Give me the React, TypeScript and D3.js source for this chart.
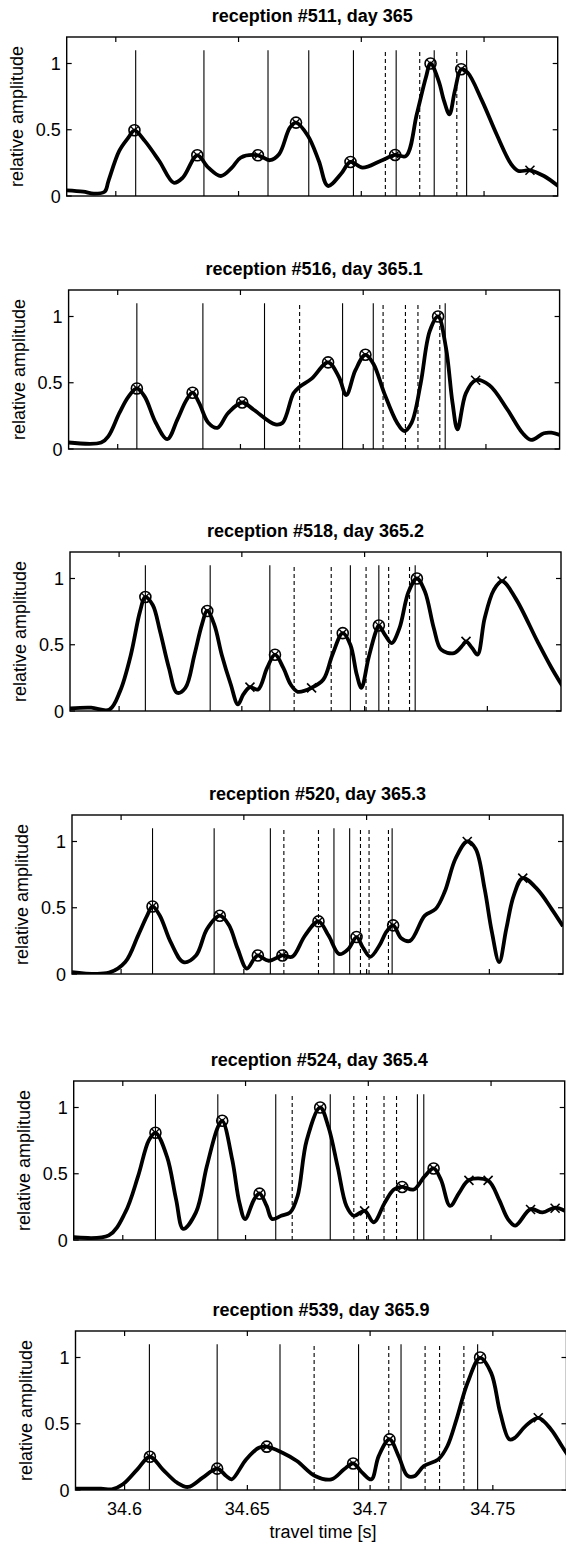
import React from "react";
import * as d3 from "d3";

// ---------- data ----------
const titles = [
  "reception #511, day 365",
  "reception #516, day 365.1",
  "reception #518, day 365.2",
  "reception #520, day 365.3",
  "reception #524, day 365.4",
  "reception #539, day 365.9",
];
const xDomain = [34.58, 34.78];
const yDomain = [0, 1.2];
const xTicks = [34.6, 34.65, 34.7, 34.75];
const xTickLabels = ["34.6", "34.65", "34.7", "34.75"];
const yTicks = [0, 0.5, 1];
const yTickLabels = ["0", "0.5", "1"];
const lineTop = 1.1;

// panel 1 (#511)
const p1Time = [34.58, 34.5867, 34.5911, 34.5955, 34.597, 34.6014, 34.6051, 34.6076, 34.6118, 34.6177, 34.6236, 34.6273, 34.6332, 34.6377, 34.6428, 34.6473, 34.6509, 34.6579, 34.6628, 34.6665, 34.6709, 34.6734, 34.6783, 34.6827, 34.6864, 34.6916, 34.6956, 34.7005, 34.7078, 34.7138, 34.7182, 34.7226, 34.7263, 34.7282, 34.7315, 34.7337, 34.7359, 34.7381, 34.7407, 34.7433, 34.7492, 34.7551, 34.7611, 34.764, 34.7687, 34.7744, 34.7807];
const p1Amp = [0.043, 0.033, 0.018, 0.033, 0.113, 0.34, 0.44, 0.496, 0.416, 0.264, 0.1, 0.139, 0.307, 0.214, 0.151, 0.214, 0.29, 0.307, 0.27, 0.315, 0.516, 0.554, 0.453, 0.264, 0.076, 0.164, 0.257, 0.214, 0.264, 0.31, 0.302, 0.617, 0.894, 1.0, 0.869, 0.718, 0.617, 0.793, 0.957, 0.932, 0.718, 0.466, 0.239, 0.189, 0.194, 0.151, 0.068];
const p1Solid = [34.6081, 34.6359, 34.662, 34.6786, 34.6968, 34.7142, 34.7297, 34.7429];
const p1Dashed = [34.7098, 34.7238, 34.7389];
const p1CircleT = [34.6076, 34.6332, 34.6579, 34.6734, 34.6956, 34.7138, 34.7282, 34.7407];
const p1CircleA = [0.496, 0.307, 0.307, 0.554, 0.257, 0.31, 1.0, 0.957];
const p1CrossT = [34.7687];
const p1CrossA = [0.194];

// panel 2 (#516)
const p2Time = [34.58, 34.5933, 34.5963, 34.6007, 34.6044, 34.6078, 34.611, 34.6155, 34.6202, 34.6243, 34.628, 34.6305, 34.6332, 34.6369, 34.6406, 34.645, 34.6507, 34.6554, 34.6642, 34.6672, 34.6716, 34.6741, 34.679, 34.6857, 34.6901, 34.6931, 34.6968, 34.7009, 34.7042, 34.7086, 34.7138, 34.7167, 34.7197, 34.7234, 34.7271, 34.7305, 34.7337, 34.7364, 34.7384, 34.7418, 34.7458, 34.7514, 34.7588, 34.7648, 34.7684, 34.7736, 34.7766, 34.7803];
const p2Amp = [0.049, 0.049, 0.099, 0.272, 0.395, 0.457, 0.395, 0.198, 0.074, 0.222, 0.37, 0.425, 0.346, 0.198, 0.16, 0.272, 0.351, 0.296, 0.185, 0.198, 0.42, 0.469, 0.531, 0.654, 0.543, 0.407, 0.593, 0.711, 0.642, 0.42, 0.198, 0.136, 0.198, 0.494, 0.889, 1.0, 0.765, 0.346, 0.148, 0.42, 0.519, 0.481, 0.296, 0.123, 0.069, 0.119, 0.123, 0.104];
const p2Solid = [34.6078, 34.6347, 34.6598, 34.6916, 34.7041, 34.7334];
const p2Dashed = [34.6741, 34.7081, 34.7172, 34.7223, 34.7312];
const p2CircleT = [34.6078, 34.6305, 34.6507, 34.6857, 34.7009, 34.7305];
const p2CircleA = [0.457, 0.425, 0.351, 0.654, 0.711, 1.0];
const p2CrossT = [34.7458];
const p2CrossA = [0.519];

// panel 3 (#518)
const p3Time = [34.58, 34.5886, 34.596, 34.6004, 34.6048, 34.6085, 34.6107, 34.6137, 34.6167, 34.6203, 34.6236, 34.627, 34.6307, 34.6337, 34.6359, 34.6388, 34.6418, 34.6455, 34.6484, 34.6506, 34.6533, 34.6566, 34.6603, 34.6635, 34.6669, 34.6699, 34.6728, 34.6784, 34.6832, 34.6869, 34.6911, 34.6942, 34.6968, 34.6987, 34.7016, 34.7046, 34.7058, 34.7083, 34.711, 34.7142, 34.7179, 34.7213, 34.7246, 34.7282, 34.7312, 34.7364, 34.7401, 34.7413, 34.7438, 34.746, 34.7489, 34.7526, 34.756, 34.7615, 34.7704, 34.776, 34.7805];
const p3Amp = [0.02, 0.025, 0.01, 0.15, 0.425, 0.75, 0.86, 0.8, 0.6, 0.325, 0.1375, 0.175, 0.425, 0.65, 0.755, 0.65, 0.425, 0.2, 0.05, 0.125, 0.18, 0.1625, 0.325, 0.425, 0.325, 0.2, 0.145, 0.175, 0.2375, 0.425, 0.5875, 0.5, 0.275, 0.175, 0.4, 0.6, 0.645, 0.575, 0.5125, 0.625, 0.9, 1.0, 0.9, 0.625, 0.4625, 0.4375, 0.5, 0.525, 0.475, 0.425, 0.7, 0.9125, 0.98, 0.85, 0.525, 0.33, 0.19];
const p3Solid = [34.6107, 34.6371, 34.6614, 34.6942, 34.7058, 34.7206];
const p3Dashed = [34.6713, 34.6864, 34.7006, 34.7098, 34.7183];
const p3CircleT = [34.6107, 34.6359, 34.6635, 34.6911, 34.7058, 34.7213];
const p3CircleA = [0.86, 0.755, 0.425, 0.5875, 0.645, 1.0];
const p3CrossT = [34.6533, 34.6784, 34.7413, 34.756];
const p3CrossA = [0.18, 0.175, 0.525, 0.98];

// panel 4 (#520)
const p4Time = [34.58, 34.5951, 34.6017, 34.6069, 34.6106, 34.6128, 34.6158, 34.6202, 34.6254, 34.6305, 34.635, 34.6402, 34.6439, 34.6475, 34.6512, 34.6542, 34.6557, 34.6601, 34.6657, 34.6697, 34.6749, 34.6804, 34.6845, 34.6889, 34.6926, 34.6959, 34.6985, 34.7015, 34.7052, 34.7081, 34.7108, 34.7141, 34.7177, 34.7237, 34.7281, 34.7318, 34.7362, 34.741, 34.7444, 34.7481, 34.751, 34.754, 34.7569, 34.7599, 34.7636, 34.7695, 34.7754, 34.78];
const p4Amp = [0.015, 0.01, 0.09, 0.29, 0.44, 0.51, 0.44, 0.24, 0.09, 0.14, 0.34, 0.44, 0.37, 0.19, 0.04, 0.115, 0.14, 0.1, 0.14, 0.13, 0.29, 0.397, 0.29, 0.15, 0.19, 0.279, 0.2, 0.13, 0.215, 0.32, 0.367, 0.27, 0.25, 0.44, 0.49, 0.62, 0.87, 1.0, 0.945, 0.64, 0.32, 0.09, 0.34, 0.59, 0.724, 0.64, 0.49, 0.36];
const p4Solid = [34.6128, 34.6379, 34.6608, 34.6867, 34.6931, 34.7104];
const p4Dashed = [34.6663, 34.6804, 34.6975, 34.701, 34.7089];
const p4CircleT = [34.6128, 34.6402, 34.6557, 34.6657, 34.6804, 34.6959, 34.7108];
const p4CircleA = [0.51, 0.44, 0.14, 0.14, 0.397, 0.279, 0.367];
const p4CrossT = [34.741, 34.7636];
const p4CrossA = [1.0, 0.724];

// panel 5 (#524)
const p5Time = [34.58, 34.5943, 34.601, 34.6062, 34.6106, 34.6133, 34.618, 34.6217, 34.6246, 34.6298, 34.6342, 34.6387, 34.6405, 34.6446, 34.6475, 34.6498, 34.6535, 34.6557, 34.6586, 34.6608, 34.6645, 34.6682, 34.6712, 34.6749, 34.6804, 34.6838, 34.6875, 34.6911, 34.6941, 34.6985, 34.7022, 34.7067, 34.7104, 34.7138, 34.7185, 34.7229, 34.7266, 34.7296, 34.7333, 34.737, 34.741, 34.7488, 34.7532, 34.7569, 34.7599, 34.7661, 34.771, 34.7761, 34.78];
const p5Amp = [0.022, 0.035, 0.208, 0.48, 0.752, 0.809, 0.629, 0.307, 0.084, 0.208, 0.554, 0.851, 0.9, 0.604, 0.282, 0.158, 0.307, 0.351, 0.257, 0.158, 0.183, 0.208, 0.332, 0.752, 1.0, 0.851, 0.554, 0.257, 0.183, 0.22, 0.134, 0.282, 0.381, 0.401, 0.381, 0.48, 0.54, 0.455, 0.257, 0.356, 0.453, 0.448, 0.307, 0.158, 0.109, 0.233, 0.208, 0.245, 0.22];
const p5Solid = [34.6133, 34.6387, 34.6623, 34.6845, 34.72, 34.7226];
const p5Dashed = [34.669, 34.6941, 34.6993, 34.7064, 34.7115];
const p5CircleT = [34.6133, 34.6405, 34.6557, 34.6804, 34.7138, 34.7266];
const p5CircleA = [0.81, 0.9, 0.35, 1.0, 0.4, 0.54];
const p5CrossT = [34.6985, 34.741, 34.7488, 34.7661, 34.7761];
const p5CrossA = [0.22, 0.45, 0.45, 0.23, 0.24];

// panel 6 (#539)
const p6Time = [34.58, 34.5904, 34.5948, 34.5993, 34.6052, 34.6103, 34.6155, 34.6214, 34.6259, 34.6318, 34.6377, 34.6414, 34.6436, 34.6495, 34.6547, 34.6579, 34.6643, 34.6702, 34.6776, 34.6842, 34.6894, 34.6931, 34.6968, 34.7005, 34.7035, 34.7079, 34.7116, 34.7153, 34.7182, 34.7219, 34.7278, 34.7315, 34.7352, 34.7397, 34.7448, 34.7493, 34.753, 34.7567, 34.7589, 34.7633, 34.7685, 34.7737, 34.7781, 34.7808];
const p6Amp = [0.01, 0.01, 0.005, 0.043, 0.156, 0.251, 0.156, 0.055, 0.023, 0.093, 0.161, 0.106, 0.08, 0.231, 0.319, 0.327, 0.281, 0.219, 0.106, 0.08, 0.156, 0.201, 0.131, 0.08, 0.256, 0.382, 0.256, 0.106, 0.106, 0.181, 0.231, 0.332, 0.533, 0.809, 0.997, 0.884, 0.583, 0.382, 0.394, 0.482, 0.545, 0.457, 0.332, 0.256];
const p6Solid = [34.6101, 34.6377, 34.6633, 34.6953, 34.7126, 34.7438];
const p6Dashed = [34.6772, 34.7076, 34.7224, 34.7283, 34.7382];
const p6CircleT = [34.6103, 34.6377, 34.6579, 34.6931, 34.7079, 34.7448];
const p6CircleA = [0.251, 0.161, 0.327, 0.2, 0.382, 1.0];
const p6CrossT = [34.7685];
const p6CrossA = [0.545];

const panels = [
  { time: p1Time, amp: p1Amp, solid: p1Solid, dashed: p1Dashed, cT: p1CircleT, cA: p1CircleA, xT: p1CrossT, xA: p1CrossA },
  { time: p2Time, amp: p2Amp, solid: p2Solid, dashed: p2Dashed, cT: p2CircleT, cA: p2CircleA, xT: p2CrossT, xA: p2CrossA },
  { time: p3Time, amp: p3Amp, solid: p3Solid, dashed: p3Dashed, cT: p3CircleT, cA: p3CircleA, xT: p3CrossT, xA: p3CrossA },
  { time: p4Time, amp: p4Amp, solid: p4Solid, dashed: p4Dashed, cT: p4CircleT, cA: p4CircleA, xT: p4CrossT, xA: p4CrossA },
  { time: p5Time, amp: p5Amp, solid: p5Solid, dashed: p5Dashed, cT: p5CircleT, cA: p5CircleA, xT: p5CrossT, xA: p5CrossA },
  { time: p6Time, amp: p6Amp, solid: p6Solid, dashed: p6Dashed, cT: p6CircleT, cA: p6CircleA, xT: p6CrossT, xA: p6CrossA },
];

// ---------- layout ----------
const W = 566;
const H = 1543;
const panelLeft = [66.7, 68.6, 70, 72, 73.7, 75.5];
const panelTop = [37, 290, 552, 815, 1081, 1331];
const plotW = 491;
const plotH = 159;
const FONT = "'Liberation Sans', Arial, Helvetica, sans-serif";
const FS = 18;

function Panel({ i }: { i: number }) {
  const p = panels[i];
  const left = panelLeft[i];
  const top = panelTop[i];
  const x = d3.scaleLinear().domain(xDomain).range([left, left + plotW]);
  const y = d3.scaleLinear().domain(yDomain).range([top + plotH, top]);
  const pts = p.time.map((t, k) => [t, p.amp[k]] as [number, number]);
  const line = d3
    .line<[number, number]>()
    .x((d) => x(d[0]))
    .y((d) => y(d[1]))
    .curve(d3.curveCatmullRom.alpha(0.5));
  const clipId = `clip${i}`;
  const isLast = i === panels.length - 1;
  const tick = 5;
  const r = 5.5;
  const cs = 4.5;
  return (
    <g>
      <defs>
        <clipPath id={clipId}>
          <rect x={left} y={top} width={plotW} height={plotH} />
        </clipPath>
      </defs>
      <text
        x={left + plotW / 2}
        y={top - 15}
        textAnchor="middle"
        fontFamily={FONT}
        fontWeight="bold"
        fontSize={FS}
      >
        {titles[i]}
      </text>
      {/* vertical lines */}
      {p.solid.map((t, k) => (
        <line key={"s" + k} x1={x(t)} x2={x(t)} y1={y(0)} y2={y(lineTop)} stroke="#000" strokeWidth={1.1} />
      ))}
      {p.dashed.map((t, k) => (
        <line key={"d" + k} x1={x(t)} x2={x(t)} y1={y(0)} y2={y(lineTop)} stroke="#000" strokeWidth={1.1} strokeDasharray="4,3" />
      ))}
      {/* curve */}
      <path d={line(pts) || ""} fill="none" stroke="#000" strokeWidth={3.8} strokeLinejoin="round" clipPath={`url(#${clipId})`} />
      {/* circle markers */}
      {p.cT.map((t, k) => {
        const cx = x(t);
        const cy = y(p.cA[k]);
        const d = r * 0.62;
        return (
          <g key={"c" + k}>
            <circle cx={cx} cy={cy} r={r} fill="none" stroke="#000" strokeWidth={1.6} />
            <line x1={cx - d} y1={cy - d} x2={cx + d} y2={cy + d} stroke="#000" strokeWidth={1.3} />
            <line x1={cx - d} y1={cy + d} x2={cx + d} y2={cy - d} stroke="#000" strokeWidth={1.3} />
          </g>
        );
      })}
      {/* cross markers */}
      {p.xT.map((t, k) => {
        const cx = x(t);
        const cy = y(p.xA[k]);
        return (
          <g key={"x" + k}>
            <line x1={cx - cs} y1={cy - cs} x2={cx + cs} y2={cy + cs} stroke="#000" strokeWidth={1.6} />
            <line x1={cx - cs} y1={cy + cs} x2={cx + cs} y2={cy - cs} stroke="#000" strokeWidth={1.6} />
          </g>
        );
      })}
      {/* box */}
      <rect x={left} y={top} width={plotW} height={plotH} fill="none" stroke="#000" strokeWidth={1.4} />
      {/* x ticks (inside, top and bottom) */}
      {xTicks.map((t, k) => (
        <g key={"xt" + k}>
          <line x1={x(t)} x2={x(t)} y1={top + plotH} y2={top + plotH - tick} stroke="#000" strokeWidth={1.2} />
          <line x1={x(t)} x2={x(t)} y1={top} y2={top + tick} stroke="#000" strokeWidth={1.2} />
          {isLast && (
            <text x={x(t)} y={top + plotH + 25} textAnchor="middle" fontFamily={FONT} fontSize={FS}>
              {xTickLabels[k]}
            </text>
          )}
        </g>
      ))}
      {/* y ticks */}
      {yTicks.map((v, k) => (
        <g key={"yt" + k}>
          <line x1={left} x2={left + tick} y1={y(v)} y2={y(v)} stroke="#000" strokeWidth={1.2} />
          <line x1={left + plotW} x2={left + plotW - tick} y1={y(v)} y2={y(v)} stroke="#000" strokeWidth={1.2} />
          <text x={left - 6} y={y(v) + 6.5} textAnchor="end" fontFamily={FONT} fontSize={FS}>
            {yTickLabels[k]}
          </text>
        </g>
      ))}
      <text
        transform={`translate(${left - 44},${top + plotH / 2}) rotate(-90)`}
        textAnchor="middle"
        fontFamily={FONT}
        fontSize={FS}
      >
        relative amplitude
      </text>
      {isLast && (
        <text x={left + plotW / 2 + 2} y={top + plotH + 48} textAnchor="middle" fontFamily={FONT} fontSize={FS}>
          travel time [s]
        </text>
      )}
    </g>
  );
}

export default function App() {
  return (
    <svg
      width={W}
      height={H}
      viewBox={`0 0 ${W} ${H}`}
      style={{ position: "absolute", left: 0, top: 0, background: "#fff" }}
    >
      <rect x={0} y={0} width={W} height={H} fill="#fff" />
      {panels.map((_, i) => (
        <Panel key={i} i={i} />
      ))}
    </svg>
  );
}
